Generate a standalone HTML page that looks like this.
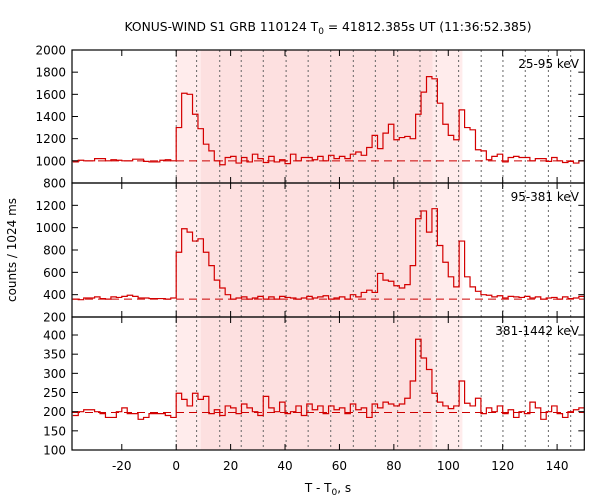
<!DOCTYPE html>
<html><head><meta charset="utf-8"><style>
body{margin:0;background:#fff}
svg{display:block;font-family:"DejaVu Sans","Liberation Sans",sans-serif}
</style></head><body>
<svg id="c" width="600" height="500" viewBox="0 0 600 500">
<text x="328" y="31" font-size="12.3" text-anchor="middle">KONUS-WIND S1 GRB 110124 T<tspan font-size="9" dy="3">0</tspan><tspan dy="-3"> = 41812.385s UT (11:36:52.385)</tspan></text>
<text transform="translate(16,250) rotate(-90)" font-size="12" text-anchor="middle">counts / 1024 ms</text>
<text x="328" y="492" font-size="12" text-anchor="middle">T - T<tspan font-size="9" dy="3">0</tspan><tspan dy="-3">, s</tspan></text>
</svg>
<script>
const binStart = -38;
const binWidth = 2;
const lowBand = [990,1005,1000,1000,1020,1020,1000,1010,1005,1000,1000,1015,1015,995,990,990,1005,1010,1000,
1300,1610,1600,1420,1290,1150,1090,1000,965,1030,1040,980,1030,990,1060,1020,985,1040,990,1010,975,1060,1000,1030,1030,1010,1040,1000,1050,1020,1040,1020,1060,1080,1050,1120,1230,1110,1250,1330,1190,1210,1220,1200,1420,1620,1760,1740,1520,1330,1230,1190,1460,1300,1280,1100,1090,1010,1040,1060,990,1030,1040,1030,1030,1000,1020,1020,995,1030,1000,985,995,980,1000];
const midBand = [360,355,370,370,380,365,360,380,375,385,395,385,370,370,365,365,365,360,370,
780,990,960,880,900,780,660,530,460,400,360,370,380,360,370,385,360,380,360,385,375,370,360,370,385,370,380,390,360,370,380,360,400,380,420,440,420,590,530,520,480,460,490,660,1080,1150,960,1170,840,690,560,470,880,560,470,430,400,395,380,390,370,385,380,375,385,370,380,360,370,375,360,380,365,370,385];
const highBand = [190,200,205,205,200,195,185,185,200,210,195,195,180,185,195,195,195,190,185,
248,232,215,248,232,240,195,205,190,215,210,195,220,210,200,190,240,210,200,225,195,200,215,190,220,205,215,195,215,205,210,195,220,205,210,185,220,210,225,220,215,220,235,280,389,340,310,248,225,215,208,215,280,222,215,235,195,210,200,215,195,205,185,200,195,225,210,180,200,215,195,185,200,205,210];
const backgrounds = [1000, 360, 198];
const bandLabels = ["25-95 keV","95-381 keV","381-1442 keV"];
const yTicksTop = [800,1000,1200,1400,1600,1800,2000];
const yTicksMid = [200,400,600,800,1000,1200];
const yTicksLow = [100,150,200,250,300,350,400];
const xTicks = [-20,0,20,40,60,80,100,120,140];
const dottedTimes = [0,7.5,16,23.9,32,40.4,48.5,56.8,65.1,73.2,81.4,89.6,95.6,103.8,112.1,120.1,128.3,136.8,145];
const shadeLight1 = [0, 9.0];
const shadeDark = [9.0, 94.2];
const shadeLight2 = [94.2, 105.2];

const NS="http://www.w3.org/2000/svg";
const svg=document.getElementById('c');
const L=72,R=584.3,xMin=-38.3,xMax=150;
const X=t=>L+(t-xMin)*(R-L)/(xMax-xMin);
const panels=[
 {top:50,bot:183,min:800,max:2000,data:lowBand,ticks:yTicksTop,labs:yTicksTop},
 {top:183,bot:317,min:200,max:1400,data:midBand,ticks:yTicksMid.concat([1400]),labs:yTicksMid},
 {top:317,bot:450,min:100,max:447,data:highBand,ticks:yTicksLow,labs:yTicksLow}
];
function mk(tag,attrs){const e=document.createElementNS(NS,tag);for(const k in attrs)e.setAttribute(k,attrs[k]);svg.appendChild(e);return e;}
const defs=mk('defs',{});
const cp=document.createElementNS(NS,'clipPath');cp.setAttribute('id','plotclip');
const cr=document.createElementNS(NS,'rect');cr.setAttribute('x',L);cr.setAttribute('y',50);cr.setAttribute('width',R-L);cr.setAttribute('height',400);
cp.appendChild(cr);defs.appendChild(cp);

[[shadeLight1,'#ffecec','shade-initial'],[shadeDark,'#fde0e0','shade-main'],[shadeLight2,'#ffecec','shade-tail']].forEach(s=>{
 const r=mk('rect',{x:X(s[0][0]),y:50,width:X(s[0][1])-X(s[0][0]),height:400,fill:s[1]});
 
 
});
dottedTimes.forEach(t=>{
 const l=mk('line',{x1:X(t),x2:X(t),y1:50,y2:450,stroke:'#666','stroke-width':1,'stroke-dasharray':'2,3'});
 
 
});
panels.forEach((p,pi)=>{
 const Y=v=>p.bot-(v-p.min)*(p.bot-p.top)/(p.max-p.min);
 const bg=mk('line',{x1:L,x2:R,y1:Y(backgrounds[pi]),y2:Y(backgrounds[pi]),stroke:'#cc0000','stroke-width':1,'stroke-dasharray':'8,5'});
 
 
 let d='';
 p.data.forEach((v,i)=>{
  const x1=X(binStart+i*binWidth),x2=X(binStart+(i+1)*binWidth),y=Y(v);
  d+=(i===0?'M'+x1+','+y:'V'+y)+'H'+x2;
 });
 const path=mk('path',{d:d,fill:'none',stroke:'#d40000','stroke-width':1.2,'clip-path':'url(#plotclip)'});
 
 
 const fr=mk('rect',{x:L,y:p.top,width:R-L,height:p.bot-p.top,fill:'none',stroke:'#000','stroke-width':1.2});
 
 
 p.ticks.forEach(v=>{
  const y=Y(v);
  mk('line',{x1:L,x2:L+6,y1:y,y2:y,stroke:'#000'});
  mk('line',{x1:R,x2:R-6,y1:y,y2:y,stroke:'#000'});
 });
 p.labs.forEach(v=>{
  const t=mk('text',{x:66,y:Y(v)+4.5,'font-size':12,'text-anchor':'end'});
  t.textContent=v;
  
  
 });
 xTicks.forEach(t=>{
  mk('line',{x1:X(t),x2:X(t),y1:p.bot,y2:p.bot-6,stroke:'#000'});
  mk('line',{x1:X(t),x2:X(t),y1:p.top,y2:p.top+6,stroke:'#000'});
 });
 const lb=mk('text',{x:579,y:p.top+18,'font-size':12,'text-anchor':'end'});
 lb.textContent=bandLabels[pi];
 
 
});
xTicks.forEach(t=>{
 const tx=mk('text',{x:X(t),y:470,'font-size':12,'text-anchor':'middle'});
 tx.textContent=t;
 
 
});
</script>
</body></html>
